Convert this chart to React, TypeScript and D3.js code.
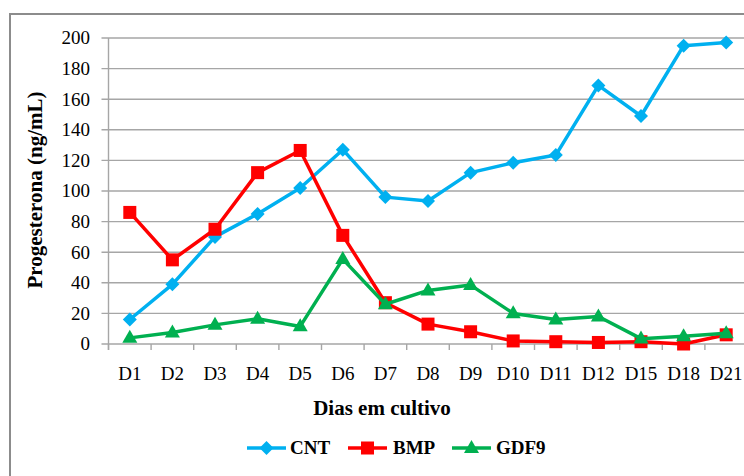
import React from "react";
import * as d3 from "d3";

const categories = ["D1","D2","D3","D4","D5","D6","D7","D8","D9","D10","D11","D12","D15","D18","D21"];
const cntValues = [16, 39, 70, 85, 102, 127, 96, 93.5, 112, 118.5, 123.5, 169, 149, 195, 197];
const bmpValues = [86, 55, 75, 112, 126.5, 71, 27, 13, 8, 2, 1.5, 1, 1.5, 0, 6];
const gdf9Values = [4, 7.5, 12.5, 16.5, 11.5, 55.5, 26, 35, 38.5, 20, 16, 18, 3.5, 5, 7];
const yTicks = [0, 20, 40, 60, 80, 100, 120, 140, 160, 180, 200];
const seriesNames = ["CNT", "BMP", "GDF9"];
const yTitle = "Progesterona (ng/mL)";
const xTitle = "Dias em cultivo";

const W = 744, H = 476;
const left = 108.5, right = 747.5, top = 38, bottom = 344;
const colors = ["#00B0F0", "#FF0000", "#00B050"];
const fam = '"Liberation Serif", serif';
const tickStyle: React.CSSProperties = { fontFamily: fam, fontSize: "19px" };
const titleStyle: React.CSSProperties = { fontFamily: fam, fontSize: "21px", fontWeight: "bold" };
const legendStyle: React.CSSProperties = { fontFamily: fam, fontSize: "19px", fontWeight: "bold" };

function Marker({ kind, x, y, color }: { kind: number; x: number; y: number; color: string }) {
  if (kind === 0) {
    const r = 7;
    return <path d={`M${x},${y - r}L${x + r},${y}L${x},${y + r}L${x - r},${y}Z`} fill={color} />;
  }
  if (kind === 1) {
    const s = 13;
    return <rect x={x - s / 2} y={y - s / 2} width={s} height={s} fill={color} />;
  }
  const w = 15, h = 13;
  return <path d={`M${x},${y - h * 0.62}L${x + w / 2},${y + h * 0.38}L${x - w / 2},${y + h * 0.38}Z`} fill={color} />;
}

export default function App() {
  const x = d3.scaleBand<string>().domain(categories).range([left, right]);
  const y = d3.scaleLinear().domain([0, 200]).range([bottom, top]);
  const cx = (c: string) => (x(c) as number) + x.bandwidth() / 2;
  const line = d3.line<[string, number]>().x((d) => cx(d[0])).y((d) => y(d[1]));
  const all = [cntValues, bmpValues, gdf9Values];
  const boundaries = d3.range(categories.length + 1).map((i) => left + i * x.step());

  const legendItems = [
    { lx: 247, tx: 290 },
    { lx: 348, tx: 393 },
    { lx: 452, tx: 496 },
  ];

  return (
    <svg width={W} height={H} style={{ position: "absolute", left: 0, top: 0, background: "#fff" }}>
      <rect x={0} y={0} width={W} height={H} fill="#fff" />
      <path d={`M10,${H}L10,14L${W},14`} fill="none" stroke="#8C8C8C" strokeWidth={2} />
      {yTicks.map((t) => (
        <line key={t} x1={left - 7} x2={right} y1={y(t)} y2={y(t)} stroke="#A6A6A6" strokeWidth={1.4} />
      ))}
      <line x1={left} x2={left} y1={top} y2={bottom + 6} stroke="#A6A6A6" strokeWidth={1.4} />
      {boundaries.map((b, i) => (
        <line key={i} x1={b} x2={b} y1={bottom} y2={bottom + 6} stroke="#A6A6A6" strokeWidth={1.4} />
      ))}
      {yTicks.map((t) => (
        <text key={t} x={90} y={y(t)} dy="0.34em" textAnchor="end" style={tickStyle} fill="#000">
          {t}
        </text>
      ))}
      {categories.map((c) => (
        <text key={c} x={cx(c)} y={380} textAnchor="middle" style={tickStyle} fill="#000">
          {c}
        </text>
      ))}
      <text transform={`translate(42,190) rotate(-90)`} textAnchor="middle" style={titleStyle}>
        {yTitle}
      </text>
      <text x={382} y={415} textAnchor="middle" style={titleStyle}>
        {xTitle}
      </text>
      {all.map((vals, si) => (
        <g key={si}>
          <path
            d={line(categories.map((c, i) => [c, vals[i]] as [string, number])) || ""}
            fill="none"
            stroke={colors[si]}
            strokeWidth={3.5}
            strokeLinejoin="round"
          />
          {categories.map((c, i) => (
            <Marker key={c} kind={si} x={cx(c)} y={y(vals[i])} color={colors[si]} />
          ))}
        </g>
      ))}
      {seriesNames.map((n, i) => (
        <g key={n}>
          <line x1={legendItems[i].lx} x2={legendItems[i].lx + 39} y1={448} y2={448} stroke={colors[i]} strokeWidth={3.5} />
          <Marker kind={i} x={legendItems[i].lx + 19.5} y={448} color={colors[i]} />
          <text x={legendItems[i].tx} y={448} dy="0.34em" style={legendStyle}>
            {n}
          </text>
        </g>
      ))}
    </svg>
  );
}
